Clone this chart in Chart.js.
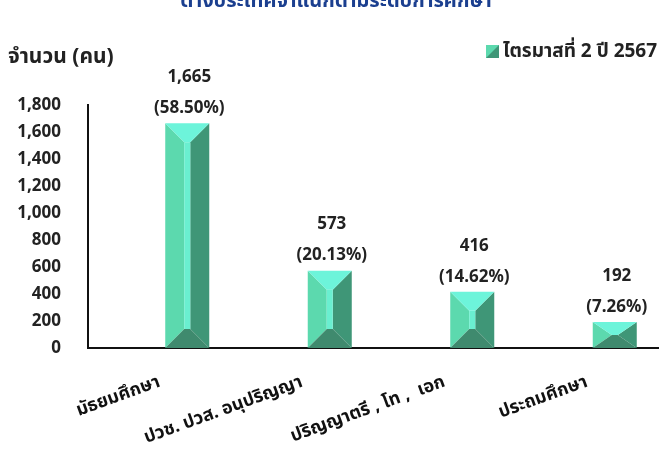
<!DOCTYPE html>
<html>
<head>
<meta charset="utf-8">
<script src="https://cdn.jsdelivr.net/npm/chart.js@4"></script>
<style>
  html, body { margin: 0; padding: 0; background: #fff; }
  #wrap { width: 669px; height: 451px; }
</style>
</head>
<body>
<div id="wrap"><canvas id="myChart" width="669" height="451"></canvas></div>
<script>
const categories = ["มัธยมศึกษา", "ปวช. ปวส. อนุปริญญา", "ปริญญาตรี , โท ,  เอก", "ประถมศึกษา"];
const persons = [1665, 573, 416, 192];
const percentLabels = ["58.50%", "20.13%", "14.62%", "7.26%"];
const yTicks = [0, 200, 400, 600, 800, 1000, 1200, 1400, 1600, 1800];
const seriesName = "ไตรมาสที่ 2 ปี 2567";
const titleText = "ต่างประเทศจำแนกตามระดับการศึกษา";
const yTitle = "จำนวน (คน)";

const FONT = "'Noto Sans', 'Noto Sans Thai', sans-serif";

// bevelled bars + labels + header texts
const bevelPlugin = {
  id: 'bevel',
  afterDatasetsDraw(chart) {
    const ctx = chart.ctx;
    const meta = chart.getDatasetMeta(1);
    meta.data.forEach((bar, i) => {
      const w = bar.width;
      const L = bar.x - w / 2, R = bar.x + w / 2;
      const T = bar.y, B = bar.base;
      const h = B - T;
      const d = Math.min(19, h / 2);
      const dh = Math.min(19, w / 2 - 3);
      const iL = L + dh, iR = R - dh, iT = T + d, iB = B - d;
      const poly = (pts, c) => {
        ctx.beginPath();
        ctx.moveTo(pts[0][0], pts[0][1]);
        for (let k = 1; k < pts.length; k++) ctx.lineTo(pts[k][0], pts[k][1]);
        ctx.closePath();
        ctx.fillStyle = c;
        ctx.fill();
      };
      ctx.save();
      poly([[L, T], [iL, iT], [iL, iB], [L, B]], '#5cd9ae');
      poly([[R, T], [iR, iT], [iR, iB], [R, B]], '#3f9677');
      poly([[L, B], [R, B], [iR, iB], [iL, iB]], '#3f8a6e');
      poly([[L, T], [R, T], [iR, iT], [iL, iT]], '#6df4da');
      if (iB > iT) poly([[iL, iT], [iR, iT], [iR, iB], [iL, iB]], '#6aefd0');

      ctx.fillStyle = '#222';
      ctx.font = 'bold 17px ' + FONT;
      ctx.textAlign = 'center';
      ctx.textBaseline = 'middle';
      ctx.fillText(persons[i].toLocaleString('en-US'), bar.x + 2, T - 46);
      ctx.fillText('(' + percentLabels[i] + ')', bar.x + 2, T - 15);
      ctx.restore();
    });

    // header texts
    ctx.save();
    ctx.fillStyle = '#1b3f8f';
    ctx.font = 'bold 20px ' + FONT;
    ctx.textAlign = 'center';
    ctx.textBaseline = 'alphabetic';
    ctx.fillText(titleText, 336, 7);

    ctx.fillStyle = '#222';
    ctx.font = 'bold 21px ' + FONT;
    ctx.textAlign = 'left';
    ctx.textBaseline = 'middle';
    ctx.fillText(yTitle, 8, 57);

    // legend
    const sx = 486, sy = 45, s = 13;
    ctx.fillStyle = '#3f9677';
    ctx.fillRect(sx, sy, s, s);
    ctx.beginPath();
    ctx.moveTo(sx, sy); ctx.lineTo(sx + s, sy); ctx.lineTo(sx, sy + s); ctx.closePath();
    ctx.fillStyle = '#5cd9ae';
    ctx.fill();
    ctx.fillStyle = '#222';
    ctx.font = 'bold 19px ' + FONT;
    ctx.fillText(seriesName, 503, 52);
    ctx.restore();
  }
};

const ctx = document.getElementById('myChart').getContext('2d');

new Chart(ctx, {
  type: 'bar',
  data: {
    labels: categories,
    datasets: [
      {
        // empty slot so the real bars sit right of the category centre
        label: '',
        data: categories.map(() => null),
        backgroundColor: 'rgba(0,0,0,0)'
      },
      {
        label: seriesName,
        data: persons,
        backgroundColor: 'rgba(0,0,0,0)',
        borderWidth: 0
      }
    ]
  },
  options: {
    responsive: false,
    animation: false,
    categoryPercentage: 0.786,
    barPercentage: 0.786,
    layout: { padding: { top: 105, right: 11, left: 0, bottom: 0 } },
    plugins: {
      legend: { display: false },
      title: { display: false },
      tooltip: { enabled: false }
    },
    scales: {
      x: {
        grid: { display: false },
        border: { display: true, color: '#111', width: 2 },
        ticks: {
          color: '#111',
          font: { family: FONT, size: 18, weight: 'bold' },
          minRotation: 20,
          maxRotation: 20,
          autoSkip: false,
          padding: 15
        },
        afterFit(scale) { scale.height = 103; }
      },
      y: {
        min: 0,
        max: 1800,
        afterBuildTicks(scale) { scale.ticks = yTicks.map(v => ({ value: v })); },
        grid: { display: false, drawTicks: false },
        border: { display: true, color: '#111', width: 2 },
        ticks: {
          color: '#222',
          font: { family: FONT, size: 17, weight: 'bold' },
          padding: 27,
          callback: v => v.toLocaleString('en-US')
        },
        afterFit(scale) { scale.width = 88; }
      }
    }
  },
  plugins: [bevelPlugin]
});
</script>
</body>
</html>
